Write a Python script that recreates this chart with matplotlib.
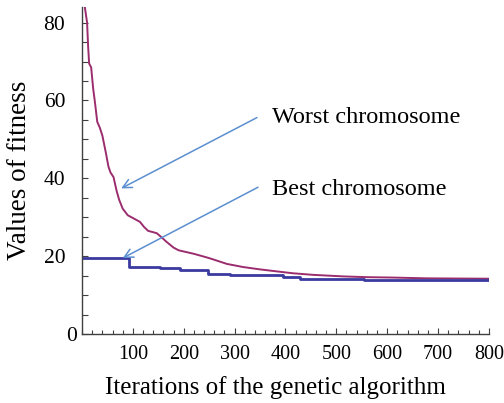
import matplotlib
matplotlib.use("Agg")
import matplotlib.pyplot as plt
from matplotlib.ticker import MultipleLocator, FixedLocator
from matplotlib.transforms import ScaledTranslation

plt.rcParams['font.family'] = ['Liberation Serif', 'DejaVu Serif']

# Worst chromosome fitness (iteration, value)
worst_iter = [1, 5, 10, 12, 14, 18, 22, 25, 30, 35, 40, 47, 52, 56, 62, 68, 73, 80,
              90, 100, 114, 122, 130, 147, 155, 166, 180, 190, 220, 250, 285, 317,
              350, 382, 415, 454, 513, 560, 611, 678, 800]
worst_val = [92, 84.5, 80, 74, 69.5, 68.5, 63, 60, 54.5, 53, 51, 46.5, 43, 41.5, 40.3,
             36.8, 34.5, 32.2, 30.5, 29.8, 28.8, 27.5, 26.5, 25.9, 25.0, 23.7, 22.2,
             21.5, 20.6, 19.5, 18.0, 17.2, 16.6, 16.1, 15.6, 15.2, 14.8, 14.6, 14.5,
             14.3, 14.2]

# Best chromosome fitness (step changes)
best_iter = [0, 92, 153, 192, 248, 291, 395, 428, 554, 800]
best_val = [19.5, 17.3, 16.9, 16.4, 15.5, 15.1, 14.6, 14.2, 13.8, 13.8]

x_ticks = [100, 200, 300, 400, 500, 600, 700, 800]
y_ticks = [0, 20, 40, 60, 80]

labels = ["Worst chromosome", "Best chromosome"]

fig = plt.figure(figsize=(5.04, 4.03), dpi=100)
ax = fig.add_axes([0.1627, 0.1712, 0.8073, 0.8114])

ax.plot(worst_iter, worst_val, color='#9b2d6e', lw=1.4)
ax.plot(best_iter, best_val, color='#3a3aa0', lw=2.0, drawstyle='steps-post')

ax.set_xlim(0, 800)
ax.set_ylim(0, 84)

ax.xaxis.set_major_locator(FixedLocator(x_ticks))
ax.xaxis.set_minor_locator(MultipleLocator(20))
ax.yaxis.set_major_locator(FixedLocator(y_ticks))
ax.yaxis.set_minor_locator(MultipleLocator(5))

for s in ['top', 'right']:
    ax.spines[s].set_visible(False)
for s in ['left', 'bottom']:
    ax.spines[s].set_color('#404040')
    ax.spines[s].set_linewidth(1.0)

ax.tick_params(which='major', direction='in', length=4.5, width=0.8, color='#404040')
ax.tick_params(which='minor', direction='in', length=3, width=0.8, color='#404040')
ax.tick_params(axis='y', which='minor', length=4.5)
ax.tick_params(axis='x', which='major', labelsize=14.5, pad=8)
ax.tick_params(axis='y', which='major', labelsize=15.5, pad=12)

fig.canvas.draw()
ylabels = ax.get_yticklabels()
zero_lbl = ylabels[0]
zero_lbl.set_transform(zero_lbl.get_transform() + ScaledTranslation(8.5 / 72, 0, fig.dpi_scale_trans))

ax.set_xlabel("Iterations of the genetic algorithm", fontsize=18)
ax.set_ylabel("Values of fitness", fontsize=19.5, labelpad=8)
ax.xaxis.set_label_coords(0.475, -0.128)

arrow_kw = dict(arrowstyle='->', color='#5b8fd0', lw=1.1, mutation_scale=16,
                shrinkA=0, shrinkB=0)
ax.annotate('', xy=(77, 37.4), xytext=(344, 55.6), arrowprops=arrow_kw)
ax.annotate('', xy=(80, 19.5), xytext=(346, 37.7), arrowprops=arrow_kw)

ax.text(373, 55.5, labels[0], fontsize=17.5, va='center', ha='left')
ax.text(373, 37.0, labels[1], fontsize=17.5, va='center', ha='left')

fig.savefig("out.png", dpi=100)
